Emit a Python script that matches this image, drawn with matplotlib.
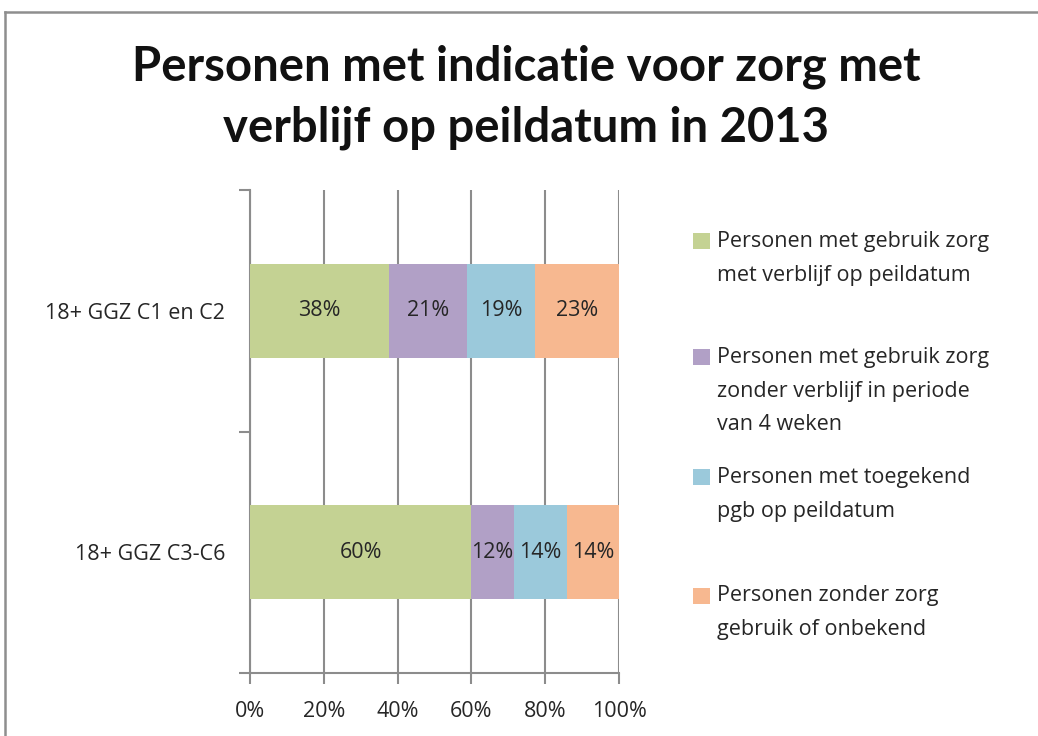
import matplotlib
matplotlib.use("Agg")
import matplotlib.pyplot as plt
from matplotlib.patches import Rectangle
from matplotlib.lines import Line2D
import numpy as np

plt.rcParams['font.family'] = ['Open Sans', 'DejaVu Sans']

categories = ["18+ GGZ C1 en C2", "18+ GGZ C3-C6"]
series_names = [
    "Personen met gebruik zorg\nmet verblijf op peildatum",
    "Personen met gebruik zorg\nzonder verblijf in periode\nvan 4 weken",
    "Personen met toegekend\npgb op peildatum",
    "Personen zonder zorg\ngebruik of onbekend",
]
# shares (fractions) per category, per series
values_c1c2 = [0.377, 0.211, 0.184, 0.228]
values_c3c6 = [0.599, 0.116, 0.144, 0.141]
labels_c1c2 = ["38%", "21%", "19%", "23%"]
labels_c3c6 = ["60%", "12%", "14%", "14%"]
xticks = [0, 0.2, 0.4, 0.6, 0.8, 1.0]
xtick_labels = ["0%", "20%", "40%", "60%", "80%", "100%"]
title = "Personen met indicatie voor zorg met\nverblijf op peildatum in 2013"

colors = ["#C4D293", "#B1A0C6", "#9BC9DB", "#F7B890"]
grid_c = "#8C8C8C"
text_c = "#262626"
fs = 15.5

fig = plt.figure(figsize=(10.38, 7.36), dpi=100)
fig.patch.set_facecolor("white")

# outer frame (top and left visible)
fig.add_artist(Line2D([5/1038, 5/1038], [1 - 12/736, -0.1], transform=fig.transFigure,
                      color="#8E8E8E", lw=1.8))
fig.add_artist(Line2D([5/1038, 1.1], [1 - 12/736, 1 - 12/736], transform=fig.transFigure,
                      color="#8E8E8E", lw=1.8))

ax = fig.add_axes([250/1038, 1 - 673/736, (619 - 250)/1038, (673 - 190)/736])

data = np.array([values_c1c2, values_c3c6])
labels = [labels_c1c2, labels_c3c6]
ypos = np.array([1, 0])
bar_h = 0.39

left = np.zeros(len(categories))
for j in range(len(series_names)):
    vals = data[:, j]
    bars = ax.barh(ypos, vals, left=left, height=bar_h, color=colors[j],
                   edgecolor="none", zorder=3, label=series_names[j])
    for i, b in enumerate(bars):
        ax.text(left[i] + vals[i] / 2, ypos[i], labels[i][j], ha="center", va="center",
                fontsize=fs, color=text_c, zorder=4)
    left = left + vals

ax.set_xlim(0, 1.0)
ax.set_ylim(-0.5, 1.5)

ax.set_xticks(xticks)
ax.set_xticklabels(xtick_labels, fontsize=fs, color=text_c)
ax.xaxis.grid(True, color=grid_c, lw=1.5, zorder=0)
ax.tick_params(axis="x", length=8, width=1.5, color=grid_c, pad=12, direction="out")

ax.set_yticks([-0.5, 0.5, 1.5])
ax.set_yticklabels([])
ax.tick_params(axis="y", which="major", length=8, width=1.5, color=grid_c)
ax.set_yticks(ypos, minor=True)
ax.set_yticklabels(categories, minor=True, fontsize=fs, color=text_c)
ax.tick_params(axis="y", which="minor", length=0, pad=18)

for s in ["top", "right"]:
    ax.spines[s].set_visible(False)
for s in ["left", "bottom"]:
    ax.spines[s].set_color(grid_c)
    ax.spines[s].set_linewidth(1.5)
ax.set_facecolor("white")

# title
fig.text(526/1038, 1 - 97/736, title, ha="center", va="center", fontsize=34,
         fontweight="bold", color="#111111", linespacing=1.45,
         family=['Lato', 'DejaVu Sans'])

# legend (manual layout to mimic spreadsheet legend)
leg_first_line_y = [241, 357, 477, 596]
line_h = 34
for j, name in enumerate(series_names):
    y = leg_first_line_y[j]
    fig.add_artist(Rectangle((693/1038, 1 - (y + 8)/736), 17/1038, 16/736,
                             transform=fig.transFigure, facecolor=colors[j],
                             edgecolor="none"))
    for k, line in enumerate(name.split("\n")):
        fig.text(717/1038, 1 - (y + k * line_h)/736, line, ha="left", va="center",
                 fontsize=fs, color=text_c)

fig.savefig("out.png", dpi=100, facecolor="white")
